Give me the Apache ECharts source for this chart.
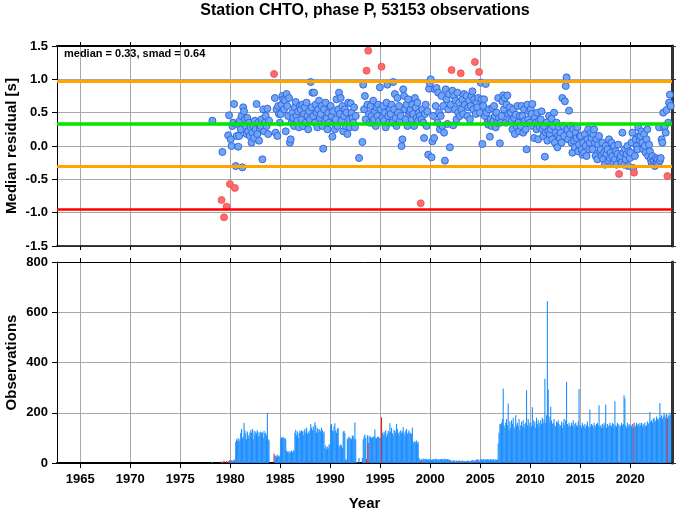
<!DOCTYPE html>
<html><head><meta charset="utf-8">
<script src="https://cdn.jsdelivr.net/npm/echarts@6/dist/echarts.min.js"></script>
<style>html,body{margin:0;padding:0;background:#fff}#c{width:678px;height:511px}</style>
</head><body><div id="c"></div>
<script>
// ---- data (monthly, starting January of firstYear) ----
const firstYear = 1978;
const median = 0.33;
const smad = 0.64;
const outlierLimit = 0.70;
const yearTicks = [1965, 1970, 1975, 1980, 1985, 1990, 1995, 2000, 2005, 2010, 2015, 2020];
const residualTicks = [-1.5, -1.0, -0.5, 0.0, 0.5, 1.0, 1.5];
const observationTicks = [0, 200, 400, 600, 800];

const residual = [
/*1978*/ null,null,0.38,null,null,null,null,null,null,null,null,null,
/*1979*/ null,-0.81,-0.09,null,-1.07,null,null,-0.91,null,0.16,0.46,-0.57,
/*1980*/ 0.10,0.00,0.30,0.35,0.63,-0.63,-0.30,0.15,0.33,-0.01,0.15,0.38,
/*1981*/ 0.25,0.45,-0.32,0.58,0.52,0.40,0.30,0.18,0.42,0.22,0.35,0.15,
/*1982*/ 0.28,0.05,0.20,0.30,0.12,0.38,0.25,0.63,0.18,0.35,0.08,0.27,
/*1983*/ 0.30,0.40,-0.20,0.55,0.22,0.35,0.45,0.30,0.56,0.18,0.38,null,
/*1984*/ null,null,null,null,1.08,0.72,0.20,0.55,0.15,0.60,0.48,0.35,
/*1985*/ 0.48,0.62,0.75,0.70,0.55,0.68,0.22,0.78,0.60,0.45,0.72,0.05,
/*1986*/ 0.10,0.35,0.50,0.42,0.30,0.58,0.66,0.45,0.38,0.52,0.28,0.60,
/*1987*/ 0.55,0.40,0.62,0.30,0.48,0.58,0.35,0.65,0.45,0.25,0.52,0.40,
/*1988*/ 0.96,0.58,0.80,0.45,0.80,0.35,0.62,0.50,0.28,0.55,0.68,0.42,
/*1989*/ 0.48,0.60,0.30,-0.04,0.55,0.38,0.65,0.42,0.25,0.50,0.35,0.58,
/*1990*/ 0.60,0.45,0.14,0.52,0.35,0.25,0.40,0.70,0.30,0.55,0.80,0.48,
/*1991*/ 0.72,0.38,0.60,0.22,0.45,0.55,0.30,0.50,0.18,0.65,0.40,0.28,
/*1992*/ 0.64,0.50,0.42,0.35,0.58,0.28,0.45,null,null,null,-0.18,null,
/*1993*/ null,null,0.06,0.92,0.55,0.75,0.40,1.13,0.62,1.43,0.48,0.35,
/*1994*/ 0.60,0.45,0.35,0.68,0.40,0.52,0.30,0.58,0.45,0.62,0.38,0.88,
/*1995*/ 0.55,1.19,0.42,0.60,0.38,0.50,0.28,0.65,0.92,0.45,0.35,0.55,
/*1996*/ 0.48,0.62,0.35,0.96,0.55,0.78,0.42,0.30,0.72,0.50,0.60,0.38,
/*1997*/ 0.45,0.00,0.10,0.85,0.75,0.55,0.40,0.62,0.30,0.70,0.48,0.52,
/*1998*/ 0.55,0.40,0.62,0.48,0.30,0.72,0.58,0.42,0.65,0.38,0.50,0.45,
/*1999*/ -0.86,0.40,0.55,0.35,0.12,0.48,0.62,0.30,0.52,-0.13,0.86,0.94,
/*2000*/ 1.00,-0.17,0.07,0.45,0.12,0.85,0.60,0.87,0.35,0.80,0.50,0.25,
/*2001*/ 0.45,0.75,0.30,0.60,0.20,-0.22,0.85,0.70,0.33,0.55,0.78,-0.02,
/*2002*/ 0.62,1.14,0.83,0.31,0.75,0.55,0.68,0.40,0.80,0.50,0.65,0.45,
/*2003*/ 1.09,0.55,0.70,0.48,0.78,0.62,null,0.75,0.45,0.58,0.68,0.40,
/*2004*/ 0.60,0.75,0.82,0.55,0.70,1.26,0.48,0.65,0.58,0.72,1.11,0.50,
/*2005*/ 0.95,0.70,0.03,0.60,0.70,0.45,0.93,0.50,0.35,0.32,0.55,0.14,
/*2006*/ 0.40,0.30,0.57,0.37,0.60,0.45,0.28,0.50,0.35,0.72,0.42,0.04,
/*2007*/ 0.35,0.45,0.67,0.76,0.55,0.72,0.35,0.62,0.76,0.48,0.40,0.58,
/*2008*/ 0.50,0.38,0.25,0.55,0.42,0.18,0.47,0.30,0.60,0.35,0.22,0.45,
/*2009*/ 0.30,0.60,0.45,0.20,0.55,0.38,0.25,-0.05,0.62,0.40,0.52,0.35,
/*2010*/ 0.55,0.48,0.63,0.30,0.12,0.42,0.35,0.25,0.50,0.10,0.38,0.28,
/*2011*/ 0.40,0.52,0.25,0.15,0.30,-0.16,0.20,0.35,0.08,0.22,0.45,0.18,
/*2012*/ 0.25,0.41,0.10,0.30,0.50,0.05,0.20,0.35,-0.02,0.15,0.28,0.12,
/*2013*/ 0.20,0.05,0.72,0.30,0.15,0.67,0.90,1.03,0.25,0.10,0.53,0.18,
/*2014*/ 0.30,0.05,-0.10,0.25,0.08,-0.02,0.20,0.12,0.28,-0.08,0.02,0.15,
/*2015*/ 0.15,-0.05,-0.13,0.05,-0.10,0.18,0.00,-0.15,0.10,0.25,-0.05,0.05,
/*2016*/ 0.20,0.12,-0.05,0.18,0.25,0.05,-0.15,0.10,-0.20,0.02,0.15,-0.08,
/*2017*/ -0.05,-0.15,0.05,-0.20,-0.10,-0.28,0.00,-0.12,-0.05,-0.22,0.10,-0.18,
/*2018*/ -0.10,0.05,-0.15,-0.25,0.00,-0.20,-0.08,-0.28,-0.12,0.02,-0.42,-0.18,
/*2019*/ -0.15,-0.25,0.20,-0.10,-0.28,-0.05,-0.20,-0.12,0.00,-0.30,-0.08,-0.18,
/*2020*/ -0.10,0.05,0.20,-0.33,-0.40,-0.15,0.10,0.00,-0.05,0.28,0.15,0.08,
/*2021*/ 0.15,0.22,0.05,-0.05,0.18,0.00,-0.10,0.10,0.25,-0.15,0.02,-0.08,
/*2022*/ -0.20,-0.25,-0.15,-0.28,-0.22,-0.30,-0.18,-0.25,-0.20,-0.27,0.28,-0.22,
/*2023*/ -0.18,0.10,0.05,0.50,0.27,0.30,0.20,0.54,-0.45,0.35,0.65,0.77,
/*2024*/ 0.60
];

const observations = [
/*1978*/ 0,0,5,0,0,0,0,0,0,0,0,0,
/*1979*/ 0,6,4,0,10,0,0,8,0,6,8,12,
/*1980*/ 12,10,8,12,14,10,85,95,90,100,88,95,
/*1981*/ 120,135,100,105,160,130,118,95,125,110,100,120,
/*1982*/ 130,120,135,95,128,112,125,118,130,105,122,110,
/*1983*/ 125,118,122,100,128,115,120,110,200,95,90,0,
/*1984*/ 0,0,0,0,37,28,30,25,33,27,30,26,
/*1985*/ 98,102,100,104,97,100,95,50,45,42,48,40,
/*1986*/ 45,50,42,48,52,120,132,110,125,100,118,128,
/*1987*/ 122,130,125,110,128,135,120,140,115,125,118,130,
/*1988*/ 155,140,130,145,128,162,150,120,138,125,135,132,
/*1989*/ 125,140,130,118,125,60,70,55,65,58,75,70,
/*1990*/ 150,155,130,125,145,158,130,120,135,140,70,65,
/*1991*/ 75,70,60,125,128,118,15,12,95,100,105,98,
/*1992*/ 100,95,110,106,98,161,95,5,0,0,20,0,
/*1993*/ 0,0,20,95,105,113,100,15,110,80,108,100,
/*1994*/ 105,100,102,104,106,133,100,98,103,105,101,100,
/*1995*/ 100,182,120,110,125,118,130,105,115,128,122,158,
/*1996*/ 125,140,118,110,132,128,120,155,135,120,110,125,
/*1997*/ 130,118,125,143,120,110,128,135,115,122,130,118,
/*1998*/ 120,115,140,85,80,88,82,90,78,85,20,15,
/*1999*/ 10,15,12,18,16,14,17,15,12,16,14,15,
/*2000*/ 15,12,14,16,13,15,18,14,12,16,15,13,
/*2001*/ 15,17,14,16,12,18,15,14,16,13,15,12,
/*2002*/ 12,5,10,8,12,9,6,10,8,7,11,9,
/*2003*/ 5,8,10,6,9,7,0,8,10,6,9,7,
/*2004*/ 8,10,12,9,11,4,12,14,13,15,4,12,
/*2005*/ 14,15,12,16,13,15,14,12,16,15,13,14,
/*2006*/ 15,12,14,16,13,11,15,12,14,78,120,154,
/*2007*/ 154,160,175,297,150,140,160,175,150,237,130,165,
/*2008*/ 140,170,155,180,145,135,190,150,160,145,175,130,
/*2009*/ 150,165,145,170,140,155,160,290,150,175,145,160,
/*2010*/ 160,145,222,170,150,165,140,180,155,170,145,160,
/*2011*/ 170,155,180,160,175,335,160,190,644,293,185,165,
/*2012*/ 224,170,155,160,175,150,145,165,160,170,155,145,
/*2013*/ 150,165,140,160,175,150,170,323,155,145,160,150,
/*2014*/ 145,160,150,170,140,155,160,150,145,165,295,150,
/*2015*/ 150,140,160,150,145,155,140,150,165,145,140,213,
/*2016*/ 145,155,150,140,160,150,145,155,160,150,230,145,
/*2017*/ 150,140,155,145,160,150,233,140,155,145,150,160,
/*2018*/ 150,145,160,155,140,246,150,145,160,155,5,150,
/*2019*/ 145,160,150,155,270,257,150,140,160,145,155,150,
/*2020*/ 150,145,155,140,160,150,145,160,150,155,145,160,
/*2021*/ 150,160,145,155,150,160,145,150,165,155,160,203,
/*2022*/ 165,170,160,175,180,170,165,185,175,170,180,238,
/*2023*/ 180,190,175,185,200,190,180,195,178,190,185,200,
/*2024*/ 190
];

// ---- build ----
const FONT = "'Liberation Sans', Arial, sans-serif";
const xMin = 1962.67, xMax = 2024.17;
const monthX = i => firstYear + (i + 0.5) / 12;
const isOutlier = v => Math.abs(v - median) > outlierLimit;

const normalPts = [], outlierPts = [], bars = [];
residual.forEach((v, i) => {
  if (v === null) return;
  (isOutlier(v) ? outlierPts : normalPts).push([monthX(i), v]);
});
observations.forEach((c, i) => {
  if (!c) return;
  const v = residual[i];
  const red = v !== null && isOutlier(v);
  bars.push({ value: [monthX(i), c], itemStyle: { color: red ? '#ff1a1a' : '#1e8fff' } });
});

const gridColor = '#a8a8a8';
function xAx(grid, pos, opts) {
  return Object.assign({
    type: 'value', gridIndex: grid, position: pos, min: xMin, max: xMax,
    axisLine: { show: true, onZero: false, lineStyle: { color: '#000', width: 1 } },
    axisTick: { show: true, customValues: yearTicks, length: 4, lineStyle: { color: '#000' } },
    axisLabel: { show: false, customValues: yearTicks },
    splitLine: { show: false }
  }, opts);
}
const chart = echarts.init(document.getElementById('c'), null, { renderer: 'canvas' });
chart.setOption({
  animation: false,
  backgroundColor: '#fff',
  grid: [
    { left: 57, right: 6, top: 46, height: 200, containLabel: false, outerBoundsMode: 'none' },
    { left: 57, right: 6, top: 262, height: 201, containLabel: false, outerBoundsMode: 'none' }
  ],
  xAxis: [
    xAx(0, 'bottom', { splitLine: { show: true, lineStyle: { color: gridColor, width: 1 } },
      axisLine: { show: true, onZero: false, lineStyle: { color: '#000', width: 1.5 } } }),
    xAx(0, 'top', { axisLine: { show: true, onZero: false, lineStyle: { color: '#000', width: 2 } } }),
    xAx(1, 'bottom', {
      splitLine: { show: true, lineStyle: { color: gridColor, width: 1 } },
      axisLine: { show: true, onZero: false, lineStyle: { color: '#000', width: 2 } },
      axisTick: { show: true, customValues: yearTicks, length: 5, lineStyle: { color: '#000' } },
      axisLabel: { show: true, customValues: yearTicks, margin: 10, color: '#000',
        fontFamily: FONT, fontWeight: 'bold', fontSize: 13, formatter: v => String(Math.round(v)) },
      name: 'Year', nameLocation: 'middle', nameGap: 33,
      nameTextStyle: { color: '#000', fontFamily: FONT, fontWeight: 'bold', fontSize: 15, verticalAlign: 'top' }
    }),
    xAx(1, 'top', {})
  ],
  yAxis: [
    { type: 'value', gridIndex: 0, position: 'left', min: -1.5, max: 1.5, interval: 0.5,
      axisLine: { show: true, lineStyle: { color: '#000', width: 1 } },
      axisTick: { show: true, length: 5, lineStyle: { color: '#000' } },
      axisLabel: { margin: 9, color: '#000', fontFamily: FONT, fontWeight: 'bold', fontSize: 13,
        formatter: v => (Math.abs(v) < 1e-9 ? 0 : v).toFixed(1) },
      splitLine: { show: true, lineStyle: { color: gridColor, width: 1 } },
      name: 'Median residual [s]', nameLocation: 'middle', nameGap: 38, nameMoveOverlap: false,
      nameTextStyle: { color: '#000', fontFamily: FONT, fontWeight: 'bold', fontSize: 15 } },
    { type: 'value', gridIndex: 0, position: 'right', min: -1.5, max: 1.5, interval: 0.5,
      axisLine: { show: true, lineStyle: { color: '#333', width: 3 } },
      axisTick: { show: true, length: 4, lineStyle: { color: '#333' } },
      axisLabel: { show: false }, splitLine: { show: false } },
    { type: 'value', gridIndex: 1, position: 'left', min: 0, max: 800, interval: 200,
      axisLine: { show: true, lineStyle: { color: '#000', width: 1 } },
      axisTick: { show: true, length: 5, lineStyle: { color: '#000' } },
      axisLabel: { margin: 9, color: '#000', fontFamily: FONT, fontWeight: 'bold', fontSize: 13 },
      splitLine: { show: true, lineStyle: { color: gridColor, width: 1 } },
      name: 'Observations', nameLocation: 'middle', nameGap: 38, nameMoveOverlap: false,
      nameTextStyle: { color: '#000', fontFamily: FONT, fontWeight: 'bold', fontSize: 15 } },
    { type: 'value', gridIndex: 1, position: 'right', min: 0, max: 800, interval: 200,
      axisLine: { show: true, lineStyle: { color: '#333', width: 3 } },
      axisTick: { show: true, length: 4, lineStyle: { color: '#333' } },
      axisLabel: { show: false }, splitLine: { show: false } }
  ],
  graphic: [
    { type: 'text', x: 365, y: 11, z: 10, style: { text: 'Station CHTO, phase P, 53153 observations',
      fill: '#000', font: "bold 16px " + FONT, textAlign: 'center', textVerticalAlign: 'middle' } },
    { type: 'text', x: 64, y: 54, z: 10, style: { text: 'median = ' + median.toFixed(2) + ', smad = ' + smad.toFixed(2),
      fill: '#000', font: "bold 11px " + FONT, textAlign: 'left', textVerticalAlign: 'middle' } }
  ],
  series: [
    { type: 'line', xAxisIndex: 0, yAxisIndex: 0, z: 1, data: [], silent: true,
      markLine: { silent: true, symbol: 'none', label: { show: false }, animation: false,
        data: [
          { yAxis: median, lineStyle: { color: '#00e600', width: 3.5, type: 'solid' } },
          { yAxis: median + smad, lineStyle: { color: '#ffa500', width: 3, type: 'solid' } },
          { yAxis: median - smad, lineStyle: { color: '#ffa500', width: 3, type: 'solid' } },
          { yAxis: median - 2 * smad, lineStyle: { color: '#ff0000', width: 2.5, type: 'solid' } }
        ] } },
    { type: 'scatter', xAxisIndex: 0, yAxisIndex: 0, z: 3, symbol: 'circle', symbolSize: 7,
      data: normalPts, itemStyle: { color: '#6fa6f2', borderColor: '#3566e8', borderWidth: 1, opacity: 1 } },
    { type: 'scatter', xAxisIndex: 0, yAxisIndex: 0, z: 4, symbol: 'circle', symbolSize: 7,
      data: outlierPts, itemStyle: { color: '#ff6a6a', borderColor: '#f04a4a', borderWidth: 0.8, opacity: 1 } },
    { type: 'bar', xAxisIndex: 2, yAxisIndex: 2, z: 2, barWidth: 1.1, data: bars, large: false }
  ]
});
</script></body></html>
